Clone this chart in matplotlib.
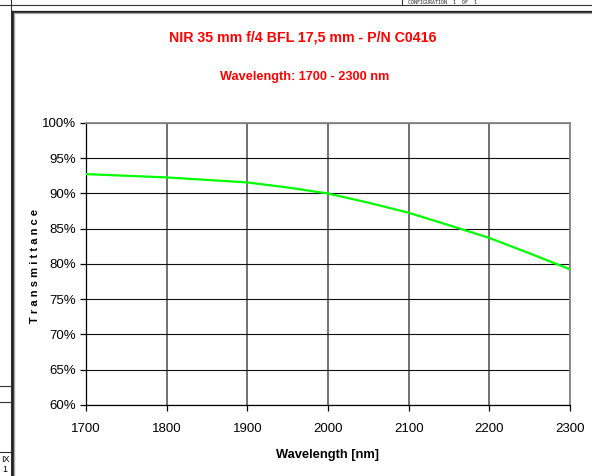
import matplotlib
matplotlib.use("Agg")
import matplotlib.pyplot as plt
from matplotlib.lines import Line2D
from matplotlib.ticker import FuncFormatter, MultipleLocator

# Transmittance curve
wavelength_nm = [1700, 1800, 1900, 1950, 2000, 2050, 2100, 2150, 2200, 2250, 2300]
transmittance = [92.75, 92.28, 91.57, 90.85, 90.0, 88.7, 87.27, 85.5, 83.7, 81.5, 79.25]

title = "NIR 35 mm f/4 BFL 17,5 mm - P/N C0416"
subtitle = "Wavelength: 1700 - 2300 nm"

plt.rcParams["font.family"] = ["Liberation Sans", "DejaVu Sans"]

fig = plt.figure(figsize=(5.92, 4.76), dpi=100)
W, H = 592, 476


def px_line(x0, y0, x1, y1, color="#000000", lw=1.0):
    # helper for the scanned page frame, coords in pixels from top-left
    fig.add_artist(Line2D([x0 / W, x1 / W], [1 - y0 / H, 1 - y1 / H],
                          transform=fig.transFigure, color=color, lw=lw))


# page frame pieces around the chart
px_line(0, 5, 592, 5, "#333333", 0.8)
px_line(10.5, 0, 10.5, 476, "#333333", 0.8)
px_line(402, 0, 402, 5, "#333333", 0.8)
px_line(12.5, 11.5, 592, 11.5, "#222222", 1.6)
px_line(13, 13, 592, 13, "#aaaaaa", 1.0)
px_line(12.5, 11.5, 12.5, 476, "#222222", 1.6)
px_line(14, 13, 14, 476, "#aaaaaa", 1.0)
px_line(0, 385.5, 10.5, 385.5, "#333333", 0.8)
px_line(0, 402, 10.5, 402, "#333333", 0.8)
px_line(0, 452, 10.5, 452, "#333333", 0.8)
fig.text(408 / W, 1 - 0.5 / H, "CONFIGURATION  1  OF  1", fontsize=3.6,
         family="DejaVu Sans Mono", va="top", ha="left", color="#222222")
fig.text(1 / W, 1 - 459 / H, "IX", fontsize=6.5, va="center", ha="left")
fig.text(2 / W, 1 - 470 / H, "1", fontsize=6.5, va="center", ha="left")

ax = fig.add_axes([86 / W, 1 - 405 / H, (570 - 86) / W, (405 - 123) / H])
ax.plot(wavelength_nm, transmittance, color="#00ff00", lw=1.6, zorder=3)

ax.set_xlim(1700, 2300)
ax.set_ylim(60, 100)
ax.xaxis.set_major_locator(MultipleLocator(100))
ax.yaxis.set_major_locator(MultipleLocator(5))
ax.yaxis.set_major_formatter(FuncFormatter(lambda v, _: f"{v:.0f}%"))

ax.grid(True, axis="y", color="#111111", lw=0.8)
ax.grid(True, axis="x", color="#666666", lw=1.3)
ax.set_axisbelow(True)
for side in ("top", "right"):
    ax.spines[side].set_color("#888888")
    ax.spines[side].set_linewidth(1.3)
for side in ("left", "bottom"):
    ax.spines[side].set_color("#000000")
    ax.spines[side].set_linewidth(0.9)
ax.tick_params(direction="out", length=4, width=0.9, labelsize=9.5, pad=3)
ax.tick_params(axis="x", pad=9)

ax.set_xlabel("Wavelength [nm]", fontsize=9.3, fontweight="bold", labelpad=10)
fig.text(35 / W, 1 - 266 / H, "T r a n s m i t t a n c e", fontsize=8.0,
         fontweight="bold", rotation=90, ha="center", va="center")

fig.text(303 / W, 1 - 38 / H, title, color="#ff0000", fontsize=10.2,
         fontweight="bold", ha="center", va="center")
fig.text(305 / W, 1 - 77 / H, subtitle, color="#ff0000", fontsize=9.2,
         fontweight="bold", ha="center", va="center")

fig.savefig("out.png", dpi=100)
